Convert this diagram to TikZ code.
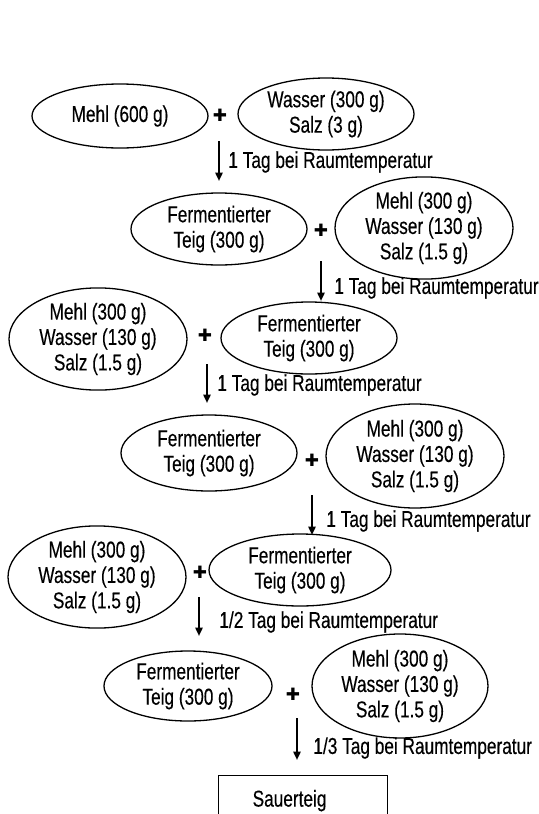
\documentclass[tikz,border=0pt]{standalone}
\usepackage{fontspec}
\setmainfont[FakeStretch=0.75, FakeBold=0.3]{Liberation Sans}
\newfontfamily\crossfont{DejaVu Sans}
\usetikzlibrary{
  shapes.geometric,
  arrows.meta
}

\tikzset{
  dough/.style={
    ellipse, draw, line width=0.65pt, inner sep=0pt, align=center,
    minimum width=88pt, minimum height=36pt
  },
  triple/.style={
    dough, minimum width=89pt, minimum height=50pt
  },
  plussign/.style={inner sep=0pt, font=\crossfont\fontsize{8.5}{8.5}\selectfont},
  rest/.style={-{Triangle[length=4.2pt,width=3.6pt]}, line width=1pt},
  resttext/.style={anchor=west, inner sep=0pt},
  result/.style={
    draw, line width=0.65pt, anchor=north west, align=left,
    inner xsep=17pt, text width=50.5pt, minimum height=25pt
  }
}

\begin{document}
\begin{tikzpicture}[x=0.5pt, y=-0.5pt, font=\fontsize{11.5}{12.7}\selectfont]
\clip (0,0) rectangle (539,814);

\node[dough, minimum height=32pt] (mehlA) at (120,116) {Mehl (600 g)};
\node[plussign] (plusA) at (220,115) {✚};
\node[dough, minimum height=36pt] (wasserA) at (326,114) {Wasser (300 g)\\Salz (3 g)};
\coordinate (sA) at (219,141);
\coordinate (eA) at (219,181);
\draw[rest] (sA) -- (eA);
\node[resttext] (tA) at (228,162) {1 Tag bei Raumtemperatur};

\node[dough] (teigB) at (219,229) {Fermentierter\\Teig (300 g)};
\node[plussign] (plusB) at (321,230) {✚};
\node[triple] (mehlB) at (424,228) {Mehl (300 g)\\Wasser (130 g)\\Salz (1.5 g)};
\coordinate (sB) at (321,261);
\coordinate (eB) at (321,301);
\draw[rest] (sB) -- (eB);
\node[resttext] (tB) at (334,288) {1 Tag bei Raumtemperatur};

\node[triple] (mehlC) at (98,339) {Mehl (300 g)\\Wasser (130 g)\\Salz (1.5 g)};
\node[plussign] (plusC) at (205,335) {✚};
\node[dough] (teigC) at (309,338) {Fermentierter\\Teig (300 g)};
\coordinate (sC) at (207,364);
\coordinate (eC) at (207,403);
\draw[rest] (sC) -- (eC);
\node[resttext] (tC) at (217,385) {1 Tag bei Raumtemperatur};

\node[dough, minimum height=38pt] (teigD) at (209,453) {Fermentierter\\Teig (300 g)};
\node[plussign] (plusD) at (312,460) {✚};
\node[triple, minimum height=52pt] (mehlD) at (415,456) {Mehl (300 g)\\Wasser (130 g)\\Salz (1.5 g)};
\coordinate (sD) at (312,495);
\coordinate (eD) at (312,535);
\draw[rest] (sD) -- (eD);
\node[resttext] (tD) at (326,521) {1 Tag bei Raumtemperatur};

\node[triple, minimum height=48pt] (mehlE) at (97,577) {Mehl (300 g)\\Wasser (130 g)\\Salz (1.5 g)};
\node[plussign] (plusE) at (200,572) {✚};
\node[dough, minimum width=91pt] (teigE) at (300,570) {Fermentierter\\Teig (300 g)};
\coordinate (sE) at (199,597);
\coordinate (eE) at (199,636);
\draw[rest] (sE) -- (eE);
\node[resttext] (tE) at (219,622) {1/2 Tag bei Raumtemperatur};

\node[dough, minimum width=84pt, minimum height=35pt] (teigF) at (188,686) {Fermentierter\\Teig (300 g)};
\node[plussign] (plusF) at (293,694) {✚};
\node[triple, minimum width=88pt, minimum height=52pt] (mehlF) at (400,686) {Mehl (300 g)\\Wasser (130 g)\\Salz (1.5 g)};
\coordinate (sF) at (297,718);
\coordinate (eF) at (297,760);
\draw[rest] (sF) -- (eF);
\node[resttext] (tF) at (313,748) {1/3 Tag bei Raumtemperatur};

\node[result] (sauer) at (218,775) {Sauerteig};
\end{tikzpicture}
\end{document}
